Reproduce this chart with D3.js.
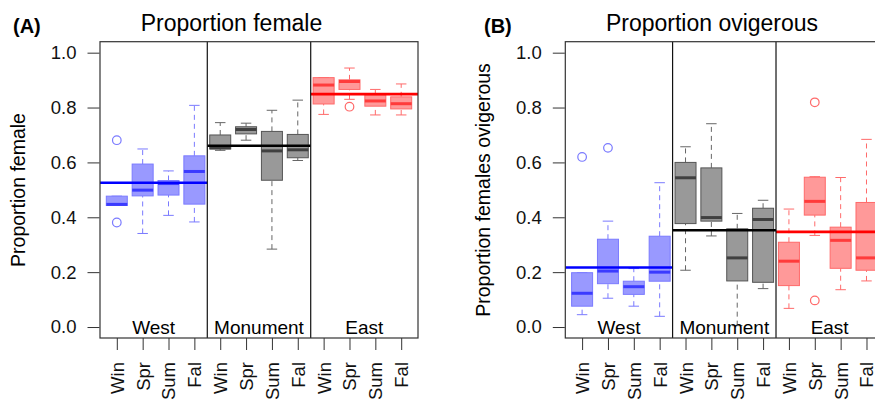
<!DOCTYPE html>
<html>
<head>
<meta charset="utf-8">
<script src="https://cdn.jsdelivr.net/npm/d3@7"></script>
<style>
  body { margin: 0; background: #fff; }
  svg { display: block; font-family: "Liberation Sans", Arial, sans-serif; }
</style>
</head>
<body>
<svg id="chart" width="875" height="400"></svg>
<script>
var seasons = ["Win", "Spr", "Sum", "Fal"];
var sites = ["West", "Monument", "East"];

// [lower whisker, q1, median, q3, upper whisker], West x4, Monument x4, East x4
var femaleStats = [
    [0.443, 0.443, 0.447, 0.477, 0.477],
    [0.341, 0.478, 0.499, 0.594, 0.649],
    [0.407, 0.481, 0.523, 0.534, 0.569],
    [0.383, 0.448, 0.567, 0.624, 0.808],
    [0.644, 0.649, 0.653, 0.700, 0.745],
    [0.681, 0.704, 0.720, 0.730, 0.743],
    [0.284, 0.535, 0.642, 0.713, 0.790],
    [0.607, 0.617, 0.646, 0.702, 0.827],
    [0.775, 0.813, 0.882, 0.909, 0.909],
    [0.830, 0.866, 0.895, 0.901, 0.944],
    [0.773, 0.805, 0.824, 0.846, 0.866],
    [0.773, 0.795, 0.814, 0.839, 0.886]
];
var femaleOutliers = [[1, 0.681], [1, 0.381], [10, 0.803]];
var femaleMeans = [0.526, 0.661, 0.849];

var ovigStats = [
    [0.045, 0.076, 0.123, 0.198, 0.198],
    [0.105, 0.158, 0.204, 0.320, 0.386],
    [0.076, 0.119, 0.147, 0.167, 0.213],
    [0.039, 0.167, 0.200, 0.331, 0.526],
    [0.207, 0.377, 0.544, 0.600, 0.657],
    [0.332, 0.386, 0.399, 0.580, 0.741],
    [0.005, 0.168, 0.252, 0.358, 0.414],
    [0.140, 0.163, 0.392, 0.433, 0.462],
    [0.068, 0.151, 0.240, 0.309, 0.430],
    [0.334, 0.408, 0.458, 0.546, 0.548],
    [0.136, 0.214, 0.316, 0.364, 0.545],
    [0.168, 0.207, 0.252, 0.454, 0.684]
];
var ovigOutliers = [[1, 0.620], [2, 0.653], [10, 0.819], [10, 0.097]];
var ovigMeans = [0.217, 0.353, 0.347];

var siteColors = [
    { fill: "#9999ff", border: "#7a7aff", median: "#3b3bff", whisker: "#7a7aff", mean: "#0000ff" },
    { fill: "#999999", border: "#555555", median: "#404040", whisker: "#666666", mean: "#000000" },
    { fill: "#ff9999", border: "#ff6a6a", median: "#ff3b3b", whisker: "#ff6a6a", mean: "#ff0000" }
];

var svg = d3.select("#chart");

function drawPanel(opt) {
    var g = svg.append("g");
    var x = d3.scaleLinear().domain([0.35, 12.65]).range([opt.left, opt.left + 318]);
    var y = d3.scaleLinear().domain([-0.04, 1.04]).range([338, 41.7]);
    var boxW = 21, capW = 10.5;

    // boxes
    opt.stats.forEach(function (s, i) {
        var pos = i + 1;
        var c = siteColors[Math.floor(i / 4)];
        var cx = x(pos);
        g.append("line")
            .attr("x1", cx).attr("x2", cx)
            .attr("y1", y(s[0])).attr("y2", y(s[1]))
            .attr("stroke", c.whisker).attr("stroke-dasharray", "5,4");
        g.append("line")
            .attr("x1", cx).attr("x2", cx)
            .attr("y1", y(s[3])).attr("y2", y(s[4]))
            .attr("stroke", c.whisker).attr("stroke-dasharray", "5,4");
        [s[0], s[4]].forEach(function (v) {
            g.append("line")
                .attr("x1", cx - capW / 2).attr("x2", cx + capW / 2)
                .attr("y1", y(v)).attr("y2", y(v))
                .attr("stroke", c.whisker);
        });
        g.append("rect")
            .attr("x", cx - boxW / 2).attr("width", boxW)
            .attr("y", y(s[3])).attr("height", y(s[1]) - y(s[3]))
            .attr("fill", c.fill).attr("stroke", c.border);
        g.append("line")
            .attr("x1", cx - boxW / 2).attr("x2", cx + boxW / 2)
            .attr("y1", y(s[2])).attr("y2", y(s[2]))
            .attr("stroke", c.median).attr("stroke-width", 3);
    });

    opt.outliers.forEach(function (o) {
        var c = siteColors[Math.floor((o[0] - 1) / 4)];
        g.append("circle")
            .attr("cx", x(o[0])).attr("cy", y(o[1])).attr("r", 4.3)
            .attr("fill", "none").attr("stroke", c.border).attr("stroke-width", 1.2);
    });

    // site means and dividers
    var edges = [0.35, 4.5, 8.5, 12.65];
    opt.means.forEach(function (m, k) {
        g.append("line")
            .attr("x1", x(edges[k])).attr("x2", x(edges[k + 1]))
            .attr("y1", y(m)).attr("y2", y(m))
            .attr("stroke", siteColors[k].mean).attr("stroke-width", 2.6);
        g.append("text")
            .attr("x", (x(edges[k]) + x(edges[k + 1])) / 2)
            .attr("y", 334)
            .attr("text-anchor", "middle")
            .style("font-size", "19px")
            .text(sites[k]);
    });
    [4.5, 8.5].forEach(function (d) {
        g.append("line")
            .attr("x1", x(d)).attr("x2", x(d))
            .attr("y1", y(1.04)).attr("y2", y(-0.04))
            .attr("stroke", "#111").attr("stroke-width", 1.2);
    });

    g.append("rect")
        .attr("x", x(0.35)).attr("y", y(1.04))
        .attr("width", 318).attr("height", y(-0.04) - y(1.04))
        .attr("fill", "none").attr("stroke", "#333").attr("stroke-width", 1.2);

    // y axis
    var yAxis = d3.axisLeft(y).tickValues([0, 0.2, 0.4, 0.6, 0.8, 1.0])
        .tickFormat(d3.format(".1f")).tickSize(12).tickPadding(11);
    var ya = g.append("g").attr("transform", "translate(" + (opt.left - 0.5) + ",0)").call(yAxis);
    ya.select(".domain").remove();
    ya.selectAll("line").attr("stroke", "#333");
    ya.selectAll("text").style("font-size", "18.5px").attr("fill", "#111")
        .style("font-family", "'Liberation Sans', Arial, sans-serif");

    // x axis
    var ticks = d3.range(1, 13);
    var xAxis = d3.axisBottom(x).tickValues(ticks)
        .tickFormat(function (d) { return seasons[(d - 1) % 4]; })
        .tickSize(12);
    var xa = g.append("g").attr("transform", "translate(0,338)").call(xAxis);
    xa.select(".domain").remove();
    xa.selectAll("line").attr("stroke", "#333");
    xa.selectAll("text")
        .attr("transform", "rotate(-90)")
        .attr("x", -24).attr("y", 0).attr("dy", "0.35em")
        .attr("text-anchor", "end")
        .style("font-size", "18.5px").attr("fill", "#111")
        .style("font-family", "'Liberation Sans', Arial, sans-serif");

    // labels
    g.append("text")
        .attr("transform", "translate(" + (opt.left - 75) + "," + 190 + ") rotate(-90)")
        .attr("text-anchor", "middle")
        .style("font-size", "19.5px")
        .text(opt.ylab);
    g.append("text")
        .attr("x", opt.titleX).attr("y", 30.5)
        .attr("text-anchor", "middle")
        .style("font-size", "23px")
        .text(opt.title);
    g.append("text")
        .attr("x", opt.tagX).attr("y", 33)
        .style("font-size", "20px").style("font-weight", "bold")
        .text(opt.tag);
}

drawPanel({ left: 100, stats: femaleStats, outliers: femaleOutliers, means: femaleMeans,
    ylab: "Proportion female", title: "Proportion female", titleX: 231.5, tag: "(A)", tagX: 13 });
drawPanel({ left: 565.3, stats: ovigStats, outliers: ovigOutliers, means: ovigMeans,
    ylab: "Proportion females ovigerous", title: "Proportion ovigerous", titleX: 712, tag: "(B)", tagX: 484 });
</script>
</body>
</html>
